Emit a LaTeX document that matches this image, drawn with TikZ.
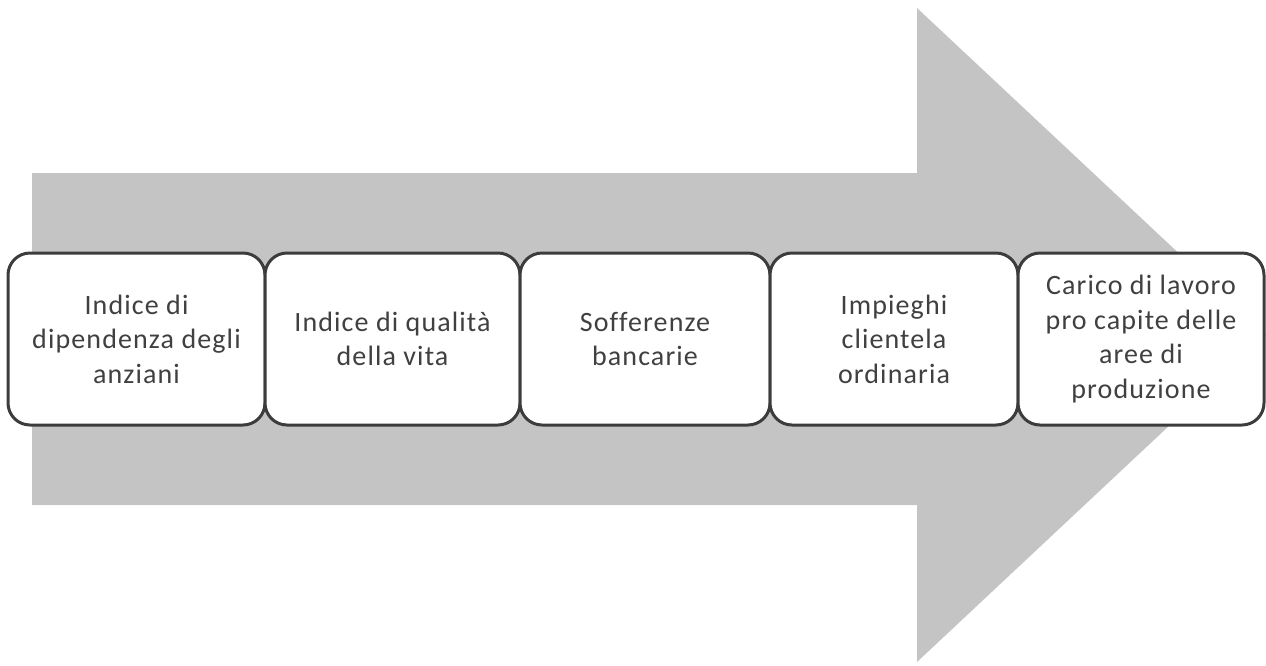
\documentclass[tikz,border=0pt]{standalone}
\usepackage{fontspec}
\setmainfont[Ligatures=NoCommon,LetterSpace=4]{Carlito}
\definecolor{arrowgray}{HTML}{C4C4C4}
\definecolor{boxline}{HTML}{3C3C3C}
\definecolor{txt}{HTML}{404040}
\begin{document}
\begin{tikzpicture}[x=1pt,y=-1pt,
  stepbox/.style={draw=boxline,line width=3pt,fill=white,rounded corners=22pt,
    minimum height=172pt,inner sep=0pt,align=center,
    text=txt,font=\fontsize{28}{34.5}\selectfont},
  bigarrow/.style={fill=arrowgray,draw=none}]
\useasboundingbox (0,0) rectangle (1266,665);
% big arrow
\fill[bigarrow] (32,173) -- (917,173) -- (917,8) -- (1266,335) -- (917,662) -- (917,505) -- (32,505) -- cycle;
% boxes
\node[stepbox,minimum width=257pt] (b1) at (136.5,339) {Indice di\\dipendenza degli\\anziani};
\node[stepbox,minimum width=255pt] (b2) at (392.5,339) {Indice di qualità\\della vita};
\node[stepbox,minimum width=250pt] (b3) at (645,339) {Sofferenze\\bancarie};
\node[stepbox,minimum width=248pt] (b4) at (894,339) {Impieghi\\clientela\\ordinaria};
\node[stepbox,minimum width=246pt] (b5) at (1141,339) {Carico di lavoro\\pro capite delle\\aree di\\produzione};
\end{tikzpicture}
\end{document}
